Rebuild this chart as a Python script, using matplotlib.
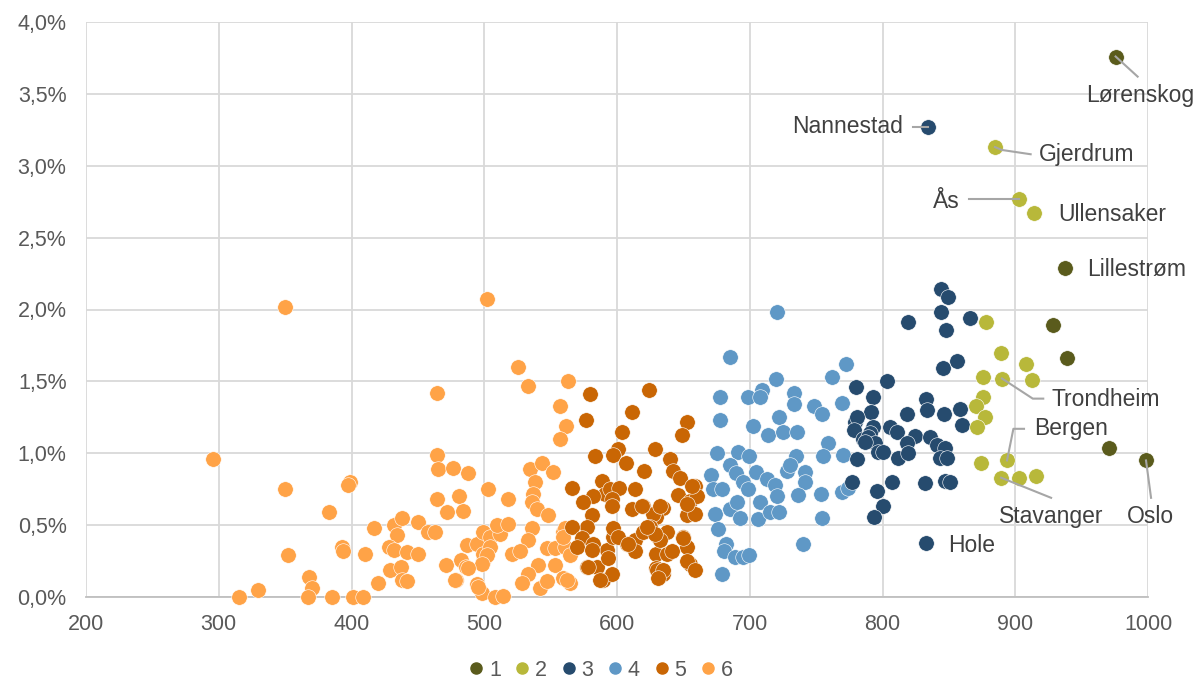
import matplotlib
matplotlib.use("Agg")
import matplotlib.pyplot as plt
from matplotlib.lines import Line2D
from matplotlib.ticker import FuncFormatter

plt.rcParams['font.family'] = ['Liberation Sans', 'DejaVu Sans']

# ---------------- data (x value, y in percent) ----------------
g1_x = [975.6, 937.5, 928.4, 939.0, 970.6, 998.5]
g1_y = [3.76, 2.29, 1.89, 1.66, 1.04, 0.95]

g2_x = [884.7, 902.8, 914.0, 878.0, 889.3, 908.0, 875.7, 890.0, 912.6, 875.7,
        870.4, 877.2, 871.0, 874.0, 893.8, 889.3, 902.8, 915.6]
g2_y = [3.13, 2.77, 2.67, 1.91, 1.70, 1.62, 1.53, 1.52, 1.51, 1.39,
        1.33, 1.25, 1.18, 0.93, 0.95, 0.83, 0.83, 0.84]

g3_x = [834.3, 832.8, 844.0, 849.3, 819.2, 844.0, 865.9, 847.8, 856.1, 845.6,
        803.4, 780.0, 792.8, 832.8, 833.5, 791.3, 818.5, 846.3, 858.4, 859.9,
        779.3, 780.8, 792.8, 805.6, 810.9, 824.5, 835.8, 778.5, 785.3, 790.6,
        789.0, 794.3, 818.5, 841.0, 847.0, 786.8, 796.6, 800.4, 811.7, 819.2,
        780.8, 843.3, 848.6, 777.0, 795.9, 807.2, 832.0, 847.0, 850.9, 800.4,
        793.6]
g3_y = [3.27, 0.375, 2.14, 2.09, 1.91, 1.98, 1.94, 1.86, 1.64, 1.59,
        1.50, 1.46, 1.39, 1.38, 1.30, 1.29, 1.27, 1.27, 1.31, 1.20,
        1.22, 1.25, 1.18, 1.18, 1.15, 1.12, 1.11, 1.16, 1.10, 1.14,
        1.11, 1.07, 1.07, 1.06, 1.04, 1.08, 1.01, 1.01, 0.97, 1.00,
        0.96, 0.97, 0.97, 0.80, 0.74, 0.80, 0.79, 0.81, 0.80, 0.63,
        0.56]

g4_x = [720.3, 685.1, 772.5, 761.7, 719.5, 677.6, 698.5, 709.0, 707.7, 733.3,
        733.3, 748.4, 754.2, 769.3, 722.3, 677.6, 702.7, 714.0, 724.8, 735.3,
        759.2, 675.0, 691.4, 699.7, 734.6, 754.9, 770.0, 670.6, 685.1, 689.6,
        695.1, 698.9, 704.7, 712.8, 719.0, 720.3, 727.8, 730.3, 741.6, 741.6,
        736.6, 753.4, 754.2, 769.3, 774.2, 740.4, 672.6, 678.9, 673.8, 685.1,
        690.6, 692.7, 707.7, 706.4, 715.3, 722.3, 676.3, 682.1, 680.6, 688.9,
        695.1, 699.7, 678.9]
g4_y = [1.98, 1.67, 1.62, 1.53, 1.52, 1.39, 1.39, 1.44, 1.39, 1.42,
        1.34, 1.33, 1.27, 1.35, 1.25, 1.23, 1.19, 1.13, 1.15, 1.15,
        1.07, 1.00, 1.01, 0.98, 0.98, 0.98, 0.99, 0.85, 0.92, 0.86,
        0.80, 0.75, 0.87, 0.82, 0.78, 0.70, 0.88, 0.92, 0.87, 0.80,
        0.71, 0.72, 0.55, 0.73, 0.76, 0.37, 0.75, 0.75, 0.58, 0.61,
        0.66, 0.55, 0.66, 0.54, 0.59, 0.59, 0.47, 0.37, 0.32, 0.28,
        0.28, 0.29, 0.16]

g5_x = [579.7, 624.4, 576.6, 611.0, 652.4, 649.2, 604.0, 583.4, 601.0, 596.7,
        606.5, 628.6, 620.3, 639.9, 642.4, 647.5, 565.9, 588.4, 590.9, 581.6,
        574.6, 594.7, 601.8, 613.6, 595.9, 611.0, 619.8, 634.8, 646.2, 655.0,
        652.6, 658.8, 660.0, 658.8, 652.6, 629.7, 627.2, 580.9, 577.1, 565.9,
        573.4, 582.1, 592.2, 597.2, 597.2, 607.2, 613.6, 619.8, 625.0, 631.1,
        637.4, 650.0, 652.6, 629.7, 637.4, 655.0, 629.7, 634.8, 577.1, 589.7,
        595.9, 584.6, 570.1, 601.0, 593.5, 578.4, 587.2, 629.9, 634.9, 652.5,
        658.8, 631.1, 641.2, 649.9, 632.4, 628.6, 622.4, 613.6, 608.5, 580.9,
        656.2, 632.4, 618.6, 596.0]
g5_y = [1.41, 1.44, 1.23, 1.29, 1.22, 1.13, 1.15, 0.98, 1.03, 0.99,
        0.93, 1.03, 0.88, 0.96, 0.88, 0.83, 0.76, 0.81, 0.72, 0.70,
        0.66, 0.75, 0.76, 0.75, 0.68, 0.61, 0.63, 0.62, 0.71, 0.67,
        0.57, 0.77, 0.70, 0.58, 0.65, 0.56, 0.58, 0.57, 0.49, 0.49,
        0.41, 0.37, 0.33, 0.42, 0.48, 0.37, 0.40, 0.45, 0.49, 0.42,
        0.45, 0.42, 0.35, 0.30, 0.30, 0.23, 0.20, 0.16, 0.21, 0.12,
        0.16, 0.21, 0.35, 0.42, 0.27, 0.21, 0.12, 0.19, 0.19, 0.25,
        0.19, 0.13, 0.32, 0.41, 0.40, 0.44, 0.49, 0.32, 0.37, 0.33,
        0.77, 0.63, 0.63, 0.63]

g6_x = [349.9, 501.8, 464.2, 525.6, 533.2, 563.3, 557.0, 561.6, 557.0, 295.4,
        464.2, 465.4, 476.2, 488.0, 349.9, 398.9, 397.5, 464.2, 481.2, 471.7,
        484.2, 383.2, 352.0, 392.6, 393.4, 410.2, 416.9, 432.0, 437.7, 450.3,
        457.8, 462.9, 434.0, 428.5, 432.0, 441.5, 450.3, 429.0, 437.0, 437.7,
        441.5, 420.2, 368.2, 369.9, 367.4, 329.8, 315.5, 385.1, 401.4, 408.9,
        471.2, 478.7, 482.2, 486.3, 486.8, 494.3, 499.3, 498.8, 494.3, 498.0,
        503.0, 499.3, 504.3, 511.9, 509.3, 518.1, 518.1, 534.5, 543.3, 552.0,
        538.3, 536.9, 535.7, 539.5, 548.3, 535.7, 533.2, 547.0, 553.3, 559.4,
        560.6, 564.4, 553.3, 540.8, 533.2, 528.2, 542.0, 547.0, 559.4, 564.6,
        520.6, 526.9, 504.3, 501.8, 498.0, 508.1, 514.4, 495.5, 488.0, 478.0,
        560.8, 559.6, 562.0]
g6_y = [2.02, 2.07, 1.42, 1.60, 1.47, 1.50, 1.33, 1.19, 1.10, 0.96,
        0.99, 0.89, 0.90, 0.86, 0.75, 0.80, 0.78, 0.68, 0.70, 0.59,
        0.60, 0.59, 0.29, 0.35, 0.32, 0.30, 0.48, 0.50, 0.55, 0.52,
        0.45, 0.45, 0.43, 0.35, 0.33, 0.31, 0.30, 0.19, 0.21, 0.12,
        0.11, 0.10, 0.14, 0.06, 0.00, 0.05, 0.00, 0.00, 0.00, 0.00,
        0.22, 0.12, 0.26, 0.21, 0.36, 0.37, 0.45, 0.25, 0.09, 0.03,
        0.75, 0.30, 0.42, 0.44, 0.50, 0.51, 0.68, 0.89, 0.93, 0.87,
        0.80, 0.72, 0.66, 0.61, 0.57, 0.48, 0.40, 0.34, 0.34, 0.45,
        0.35, 0.29, 0.22, 0.22, 0.16, 0.10, 0.06, 0.11, 0.13, 0.10,
        0.30, 0.32, 0.35, 0.29, 0.23, 0.00, 0.01, 0.07, 0.20, 0.12,
        0.48, 0.42, 0.12]

group_names = ["1", "2", "3", "4", "5", "6"]
group_colors = ["#5a5b1c", "#b8b83a", "#264b6e", "#5f98c6", "#c96604", "#ffa347"]

# labels: (name, text x, text y, ha, leader path)
labels = [
    ("Lørenskog", 994.0, 3.49, "center", [(975.6, 3.76), (992.2, 3.62)]),
    ("Nannestad", 815.2, 3.27, "right", [(834.3, 3.27), (822.7, 3.27)]),
    ("Gjerdrum", 918.1, 3.075, "left", [(884.7, 3.13), (889.8, 3.11), (911.6, 3.08)]),
    ("Ås", 858.4, 2.75, "right", [(902.8, 2.77), (865.4, 2.77)]),
    ("Ullensaker", 932.4, 2.66, "left", None),
    ("Lillestrøm", 954.3, 2.28, "left", None),
    ("Trondheim", 927.4, 1.377, "left", [(890.0, 1.52), (913.2, 1.38), (921.1, 1.38)]),
    ("Bergen", 914.1, 1.17, "left", [(893.8, 0.95), (898.6, 1.17), (906.6, 1.17)]),
    ("Stavanger", 927.0, 0.56, "center", [(889.3, 0.83), (927.0, 0.69)]),
    ("Oslo", 1001.5, 0.56, "center", [(998.5, 0.95), (1002.3, 0.69)]),
    ("Hole", 849.5, 0.357, "left", None),
]

xs = [g1_x, g2_x, g3_x, g4_x, g5_x, g6_x]
ys = [g1_y, g2_y, g3_y, g4_y, g5_y, g6_y]

# ---------------- figure ----------------
fig = plt.figure(figsize=(11.98, 6.83), dpi=100)
ax = fig.add_axes([86 / 1198, 1 - 597 / 683, (1148 - 86) / 1198, (597 - 22) / 683])

ax.set_xlim(200, 1000)
ax.set_ylim(0, 4.0)
ax.set_xticks(range(200, 1001, 100))
ax.set_yticks([i * 0.5 for i in range(9)])
ax.yaxis.set_major_formatter(FuncFormatter(lambda v, p: f"{v:.1f}%".replace(".", ",")))
ax.grid(True, color="#d9d9d9", linewidth=1.3, zorder=0)
ax.set_axisbelow(True)
for s in ["top", "right", "left"]:
    ax.spines[s].set_visible(False)
ax.spines["bottom"].set_color("#bfbfbf")
ax.spines["bottom"].set_linewidth(1.3)
ax.tick_params(axis="both", length=0, labelsize=15.5, colors="#595959")
ax.tick_params(axis="y", pad=14)
ax.tick_params(axis="x", pad=12)

# draw in reverse order so group 1 sits on top
for i in range(5, -1, -1):
    ax.scatter(xs[i], ys[i], s=125, color=group_colors[i], edgecolors="white",
               linewidths=0.4, zorder=3 + (6 - i), clip_on=False)

for name, tx, ty, ha, path in labels:
    if path is not None:
        px = [p[0] for p in path]
        py = [p[1] for p in path]
        ax.plot(px, py, color="#a6a6a6", linewidth=1.5, zorder=20, clip_on=False)
    ax.text(tx, ty, name, ha=ha, va="center", fontsize=16.5, color="#404040",
            zorder=21, clip_on=False)

handles = [Line2D([], [], linestyle="none", marker="o", markersize=8,
                  markerfacecolor=c, markeredgecolor=c) for c in group_colors]
fig.legend(handles, group_names, loc="lower center", bbox_to_anchor=(0.5, -0.025),
           ncol=6, frameon=False, fontsize=15.5, handletextpad=0.1,
           columnspacing=0.5, handlelength=1.0, labelcolor="#595959")

fig.savefig("out.png", dpi=100)
